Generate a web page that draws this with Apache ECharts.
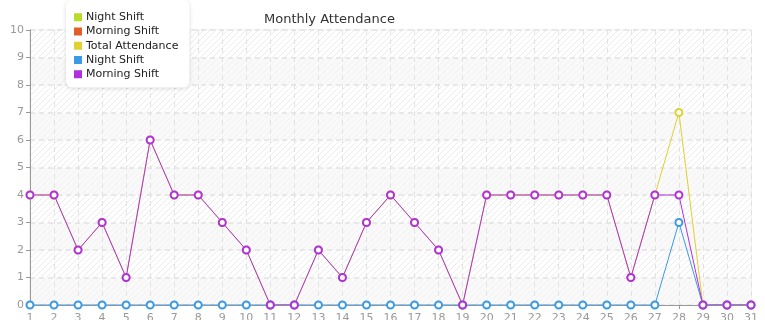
<!DOCTYPE html>
<html><head><meta charset="utf-8">
<script src="https://cdn.jsdelivr.net/npm/echarts@6/dist/echarts.min.js"></script>
<style>html,body{margin:0;padding:0;background:#fff}#c{width:765px;height:320px}</style>
</head><body><div id="c"></div>
<script>
const days = ['1','2','3','4','5','6','7','8','9','10','11','12','13','14','15','16','17','18','19','20','21','22','23','24','25','26','27','28','29','30','31'];
const nightShift = [0,0,0,0,0,0,0,0,0,0,0,0,0,0,0,0,0,0,0,0,0,0,0,0,0,0,0,3,0,0,0];
const morningShift = [4,4,2,3,1,6,4,4,3,2,0,0,2,1,3,4,3,2,0,4,4,4,4,4,4,1,4,4,0,0,0];
const totalAttendance = [4,4,2,3,1,6,4,4,3,2,0,0,2,1,3,4,3,2,0,4,4,4,4,4,4,1,4,7,0,0,0];
const emptySeries = [];
const legendNames = ['Night Shift','Morning Shift','Total Attendance','Night Shift ','Morning Shift '];
const yTicks = [0,1,2,3,4,5,6,7,8,9,10];

function hatch(base, line) {
  const c = document.createElement('canvas');
  c.width = 6; c.height = 6;
  const g = c.getContext('2d');
  g.fillStyle = base; g.fillRect(0,0,6,6);
  g.strokeStyle = line; g.lineWidth = 1;
  g.beginPath();
  g.moveTo(-1,7); g.lineTo(7,-1);
  g.moveTo(-1,1); g.lineTo(1,-1);
  g.moveTo(5,7); g.lineTo(7,5);
  g.stroke();
  return {image: c, repeat: 'repeat'};
}

const colors = ['#b8dc2a','#e0602a','#e0d030','#3a9ae6','#b030e0'];
function mk(name, data, color) {
  return {
    name, type: 'line', data,
    symbol: 'emptyCircle', symbolSize: 7,
    lineStyle: {width: 1, color},
    itemStyle: {color, borderColor: color, borderWidth: 1},
    emphasis: {disabled: true}
  };
}
const chart = echarts.init(document.getElementById('c'), null, {renderer: 'canvas'});
chart.setOption({
  animation: false,
  color: colors,
  title: {text: 'Monthly Attendance', left: 259, top: 8, textStyle: {fontSize: 13, fontWeight: 'normal', color: '#333', fontFamily: 'DejaVu Sans'}},
  legend: {
    orient: 'vertical', left: 66, top: 0,
    padding: [10, 11, 6, 8],
    icon: 'rect', itemWidth: 6, itemHeight: 6, itemGap: 0, itemTextGap: 7,
    backgroundColor: '#fff', borderRadius: 6,
    shadowColor: 'rgba(0,0,0,0.15)', shadowBlur: 4, shadowOffsetY: 1,
    textStyle: {fontSize: 11, color: '#222', fontFamily: 'DejaVu Sans', lineHeight: 14.3},
    data: legendNames.map((n,i)=>({name:n, itemStyle:{color: colors[i]}}))
  },
  grid: {left: 30, right: 14, top: 30, bottom: 15, outerBoundsMode: 'none', containLabel: false, show: true, borderColor: '#e4e4e4', borderWidth: 1, backgroundColor: 'transparent'},
  xAxis: {
    type: 'category', data: days, boundaryGap: false,
    axisLine: {lineStyle: {color: '#999'}},
    axisTick: {show: true, alignWithLabel: true, length: 4, lineStyle: {color: '#999'}},
    axisLabel: {color: '#999', fontSize: 11, margin: 8, fontFamily: 'DejaVu Sans'},
    splitLine: {show: true, lineStyle: {type: [5,4], color: '#e2e2e2'}}
  },
  yAxis: {
    type: 'value', min: yTicks[0], max: yTicks[yTicks.length-1], interval: 1,
    axisLine: {show: true, lineStyle: {color: '#999'}},
    axisTick: {show: true, length: 4, lineStyle: {color: '#999'}},
    axisLabel: {color: '#999', fontSize: 11, margin: 6, fontFamily: 'DejaVu Sans'},
    splitLine: {lineStyle: {type: [5,4], color: '#e2e2e2', width: 1.5}},
    splitArea: {show: true, areaStyle: {color: [hatch('#f9f9f9','#f2f2f2'), hatch('#ffffff','#ececec')]}}
  },
  series: [
    mk(legendNames[0], emptySeries, colors[0]),
    mk(legendNames[1], emptySeries, colors[1]),
    mk(legendNames[2], totalAttendance, colors[2]),
    mk(legendNames[3], nightShift, colors[3]),
    mk(legendNames[4], morningShift, colors[4])
  ]
});
</script></body></html>
